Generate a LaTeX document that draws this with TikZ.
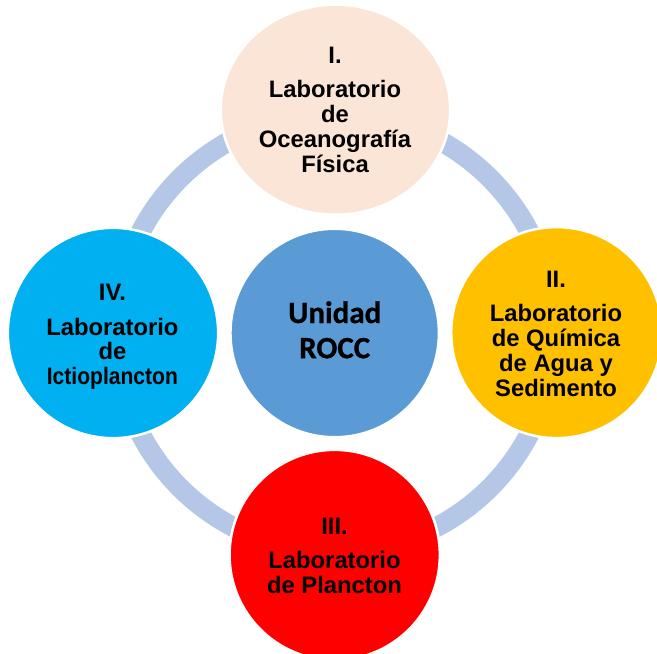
\documentclass[tikz,border=0pt]{standalone}
\usepackage{fontspec}
\setmainfont{Liberation Sans}
\newfontfamily\labfont{Liberation Sans}
\newfontfamily\unifont[BoldFeatures={FakeBold=0.8}]{Carlito}
\usetikzlibrary{shapes.geometric}
\definecolor{ringc}{HTML}{B4C7E7}
\definecolor{topc}{HTML}{FBE5D6}
\definecolor{midc}{HTML}{5B9BD5}
\definecolor{rightc}{HTML}{FFC000}
\definecolor{botc}{HTML}{FF0000}
\definecolor{leftc}{HTML}{00B0F0}
\tikzset{
  ringline/.style={draw=ringc, line width=20pt},
  disc/.style={circle, draw=white, line width=2.5pt, inner sep=0pt},
  numtxt/.style={anchor=base, inner sep=0pt, text height=17pt, text depth=1pt, font=\labfont\bfseries\fontsize{23.8}{24.8}\selectfont},
  labtxt/.style={anchor=base, inner sep=0pt, text height=17pt, text depth=5pt, font=\labfont\bfseries\fontsize{23.8}{24.8}\selectfont},
  unitxt/.style={anchor=base, inner sep=0pt, text height=22pt, text depth=4pt, text=black, font=\unifont\bfseries\fontsize{31}{35}\selectfont}
}
\begin{document}
\begin{tikzpicture}[x=1pt,y=-1pt]
\useasboundingbox (0,0) rectangle (657,654);
\clip (0,0) rectangle (657,654);
% ring
\coordinate (rc) at (335,333);
\draw[ringline] (rc) circle (219pt);
% discs
\node[ellipse, draw=white, line width=2.5pt, fill=topc, minimum width=229.5pt, minimum height=210pt, inner sep=0pt] (top) at (335.5,109.7) {};
\node[disc, fill=leftc, minimum size=210.3pt] (left) at (113,333) {};
\node[disc, fill=rightc, minimum size=211pt] (right) at (556.7,332.6) {};
\node[disc, fill=botc, minimum size=210.3pt] (bot) at (334.7,555) {};
\node[disc, fill=midc, minimum size=208.5pt] (mid) at (334.7,333) {};
% top texts
\node[numtxt] (t0) at (335,63.5) {I.};
\node[labtxt] (t1) at (335,97.5) {Laboratorio};
\node[labtxt] (t2) at (335,122.3) {de};
\node[labtxt] (t3) at (335,147.2) {Oceanografía};
\node[labtxt] (t4) at (335,172.1) {Física};
% right texts
\node[numtxt] (r0) at (556,287) {II.};
\node[labtxt] (r1) at (556,321.7) {Laboratorio};
\node[labtxt] (r2) at (556,346.5) {de Química};
\node[labtxt] (r3) at (556,371.3) {de Agua y};
\node[labtxt] (r4) at (556,396) {Sedimento};
% bottom texts
\node[numtxt] (b0) at (334.5,534) {III.};
\node[labtxt] (b1) at (334.5,568.5) {Laboratorio};
\node[labtxt] (b2) at (334.5,593.3) {de Plancton};
% left texts
\node[numtxt] (l0) at (112.4,300.8) {IV.};
\node[labtxt] (l1) at (112.4,335) {Laboratorio};
\node[labtxt] (l2) at (112.4,359.8) {de};
\node[labtxt] (l3) at (112.4,384.3) {\scalebox{0.885}[1]{Ictioplancton}};
% center texts
\node[unitxt] (m1) at (334.7,323) {Unidad};
\node[unitxt] (m2) at (334.7,358.2) {ROCC};
\end{tikzpicture}
\end{document}
